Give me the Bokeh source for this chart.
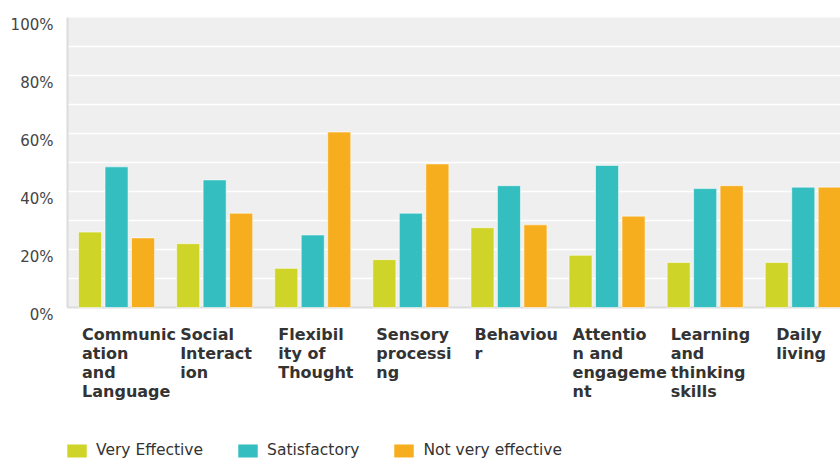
import numpy as np
from bokeh.plotting import figure
from bokeh.models import Range1d, Legend, LegendItem, BoxAnnotation
from bokeh.core.properties import value
from bokeh.embed import file_html
from bokeh.resources import INLINE

categories = ["Communic\nation\nand\nLanguage", "Social\nInteract\nion", "Flexibil\nity of\nThought",
              "Sensory\nprocessi\nng", "Behaviou\nr", "Attentio\nn and\nengageme\nnt",
              "Learning\nand\nthinking\nskills", "Daily\nliving"]
series_names = ["Very Effective", "Satisfactory", "Not very effective"]
very_effective = [26.0, 22.0, 13.5, 16.5, 27.5, 18.0, 15.5, 15.5]
satisfactory = [48.5, 44.0, 25.0, 32.5, 42.0, 49.0, 41.0, 41.5]
not_very_effective = [24.0, 32.5, 60.5, 49.5, 28.5, 31.5, 42.0, 41.5]
colors = ["#CFD428", "#34BEC0", "#F7AE1E"]
y_ticks = [0, 20, 40, 60, 80, 100]
y_tick_labels = ["0%", "20%", "40%", "60%", "80%", "100%"]
grid_ticks = [10, 20, 30, 40, 50, 60, 70, 80, 90]

W, H = 840, 459
PLOT_LEFT, PLOT_TOP, PLOT_BOTTOM = 67, 17, 307
PX_X = 98.1                      # pixels per category
PX_Y = (PLOT_BOTTOM - PLOT_TOP) / 100.0
x_start = -PLOT_LEFT / PX_X
x_end = (W - PLOT_LEFT) / PX_X
y_end = 100 + PLOT_TOP / PX_Y
y_start = 100 - (H - PLOT_TOP) / PX_Y

p = figure(width=W, height=H, output_backend="svg", toolbar_location=None,
           x_range=Range1d(x_start, x_end), y_range=Range1d(y_start, y_end),
           x_axis_location=None, y_axis_location=None,
           min_border_left=0, min_border_right=0, min_border_top=0, min_border_bottom=0)
p.background_fill_color = "white"
p.border_fill_color = "white"
p.outline_line_color = None
p.grid.visible = False

# plot area background
p.add_layout(BoxAnnotation(left=0, bottom=0, top=100, fill_color="#efefef", fill_alpha=1,
                           line_color=None, level="underlay"))
# horizontal grid lines
p.segment(x0=[0] * len(grid_ticks), x1=[x_end + 1] * len(grid_ticks), y0=grid_ticks, y1=grid_ticks,
          line_color="white", line_width=1.5)
# axis lines
p.segment(x0=[0, 0], x1=[0, x_end + 1], y0=[0, 0], y1=[100, 0], line_color="#dcdcdc", line_width=2)

idx = np.arange(len(categories))
offsets = [-0.27, 0.0, 0.27]
renderers = []
for vals, off, col in zip([very_effective, satisfactory, not_very_effective], offsets, colors):
    r = p.vbar(x=idx + 0.5 + off, top=vals, width=0.235, fill_color=col,
               line_color="white", line_alpha=0.55, line_width=1)
    renderers.append(r)

# y tick labels
p.text(x=[0] * len(y_ticks), y=y_ticks, text=y_tick_labels, x_offset=-14, y_offset=-2,
       text_align="right", text_baseline="top", text_font=value("DejaVu Sans"),
       text_font_size="15px", text_color="#444444")

# category labels (wrapped lines, left aligned)
lx, ly, lt, lxo, lyo = [], [], [], [], []
for i, cat in enumerate(categories):
    lines = cat.split("\n")
    block_w = min(69.0, 9.0 * max(len(s) for s in lines))
    for k, line in enumerate(lines):
        lx.append(i + 0.5)
        ly.append(0)
        lt.append(line)
        lxo.append(-block_w / 2)
        lyo.append(27 + 19 * k)
p.text(x=lx, y=ly, text=lt, x_offset=lxo, y_offset=lyo, text_align="left",
       text_baseline="alphabetic", text_font=value("DejaVu Sans"), text_font_style="bold",
       text_font_size="16px", text_color="#333333")

legend = Legend(items=[LegendItem(label=n, renderers=[r]) for n, r in zip(series_names, renderers)],
                orientation="horizontal", location=(64, 0),
                glyph_width=25, glyph_height=17, label_standoff=7, spacing=32,
                padding=0, margin=0, border_line_color=None, background_fill_alpha=0,
                label_text_font="DejaVu Sans", label_text_font_size="15.5px",
                label_text_color="#333333")
p.add_layout(legend, "center")

open("out.html", "w").write(file_html(p, INLINE))
